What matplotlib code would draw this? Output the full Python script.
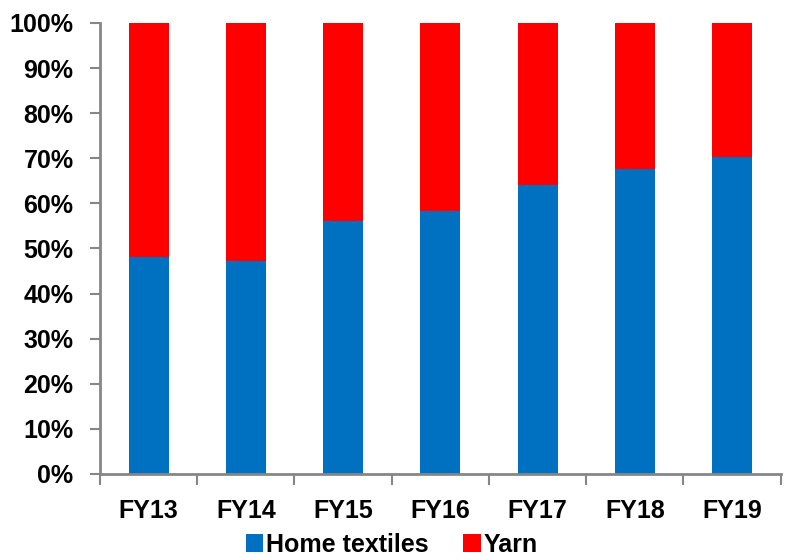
import matplotlib.pyplot as plt
import numpy as np

# Anteile je Geschäftsjahr (in %)
years = ['FY13', 'FY14', 'FY15', 'FY16', 'FY17', 'FY18', 'FY19']
home_textiles = [48.1, 47.2, 56.1, 58.3, 64.1, 67.6, 70.2]
yarn = [100 - v for v in home_textiles]

plt.rcParams['font.family'] = ['Liberation Sans', 'DejaVu Sans']
plt.rcParams['font.weight'] = 'bold'

fig = plt.figure(figsize=(7.91, 5.6), dpi=100)
ax = fig.add_axes([0.1264, 0.1536, 0.8606, 0.8054])

x = np.arange(len(years))
width = 0.41
ax.bar(x, home_textiles, width, color='#0070C0', label='Home textiles')
ax.bar(x, yarn, width, bottom=home_textiles, color='#FF0000', label='Yarn')

ax.set_xlim(-0.5, len(years) - 0.5)
ax.set_ylim(0, 100)
ax.set_yticks(np.arange(0, 101, 10))
ax.set_yticklabels([f'{v}%' for v in range(0, 101, 10)])

# Kategorie-Beschriftungen mittig, Teilstriche zwischen den Balken
ax.set_xticks(x)
ax.set_xticklabels(years)
ax.set_xticks(np.arange(-0.5, len(years), 1), minor=True)
ax.tick_params(axis='x', which='major', length=0, pad=18, labelsize=18)
ax.tick_params(axis='x', which='minor', length=8, width=1.5, color='#868686', direction='out')
ax.tick_params(axis='y', length=7, width=1.5, color='#868686', labelsize=18, pad=12)

for side in ['top', 'right']:
    ax.spines[side].set_visible(False)
for side in ['left', 'bottom']:
    ax.spines[side].set_color('#868686')
    ax.spines[side].set_linewidth(2)

fig.legend(loc='center', bbox_to_anchor=(0.495, 0.027), ncol=2, frameon=False,
           fontsize=18, handlelength=0.7, handleheight=0.7, handletextpad=0.1,
           columnspacing=1.4, borderaxespad=0, borderpad=0)

fig.savefig('out.png', dpi=100)
